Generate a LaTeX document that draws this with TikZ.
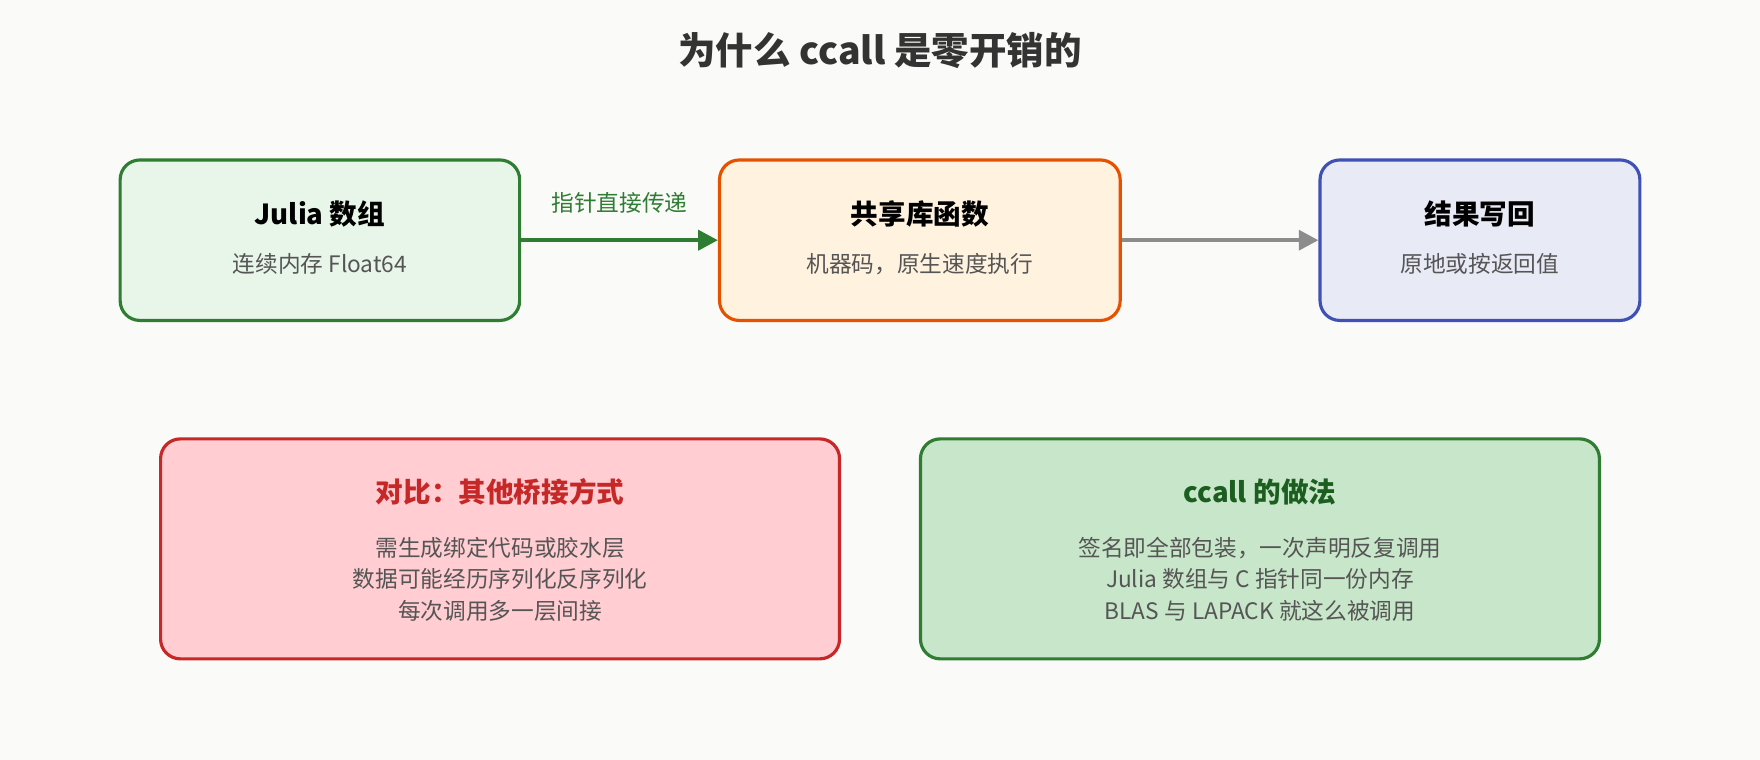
\documentclass[tikz,border=0pt]{standalone}
\usepackage{fontspec}
\setmainfont{Noto Sans CJK SC}
\usetikzlibrary{arrows.meta}
\definecolor{bg}{HTML}{FAFAF8}
\definecolor{gS}{HTML}{2E7D32}\definecolor{gF}{HTML}{E8F5E9}
\definecolor{oS}{HTML}{E65100}\definecolor{oF}{HTML}{FFF3E0}
\definecolor{bS}{HTML}{3F51B5}\definecolor{bF}{HTML}{E8EAF6}
\definecolor{rS}{HTML}{C62828}\definecolor{rF}{HTML}{FFCDD2}
\definecolor{g2F}{HTML}{C8E6C9}\definecolor{g2T}{HTML}{1B5E20}
\definecolor{txt}{HTML}{555555}
\begin{document}
\begin{tikzpicture}[x=0.02cm,y=0.02cm,
  box/.style={draw, line width=1.6pt, rounded corners=10pt, anchor=center},
  ttl/.style={font=\fontsize{14}{16}\selectfont\bfseries, text=black},
  body/.style={font=\fontsize{11.5}{16}\selectfont, text=txt, align=center}]
\fill[bg] (0,0) rectangle (1568,677);
\useasboundingbox (0,0) rectangle (1568,677);
\node[font=\fontsize{19}{22}\selectfont\bfseries, text=black!80] (title) at (784,632) {为什么 ccall 是零开销的};
% top boxes
\node[box, draw=gS, fill=gF, minimum width=356\pgflinewidth*0+7.12cm, minimum height=2.86cm] (julia) at (285,463) {};
\node[box, draw=oS, fill=oF, minimum width=7.14cm, minimum height=2.86cm] (lib) at (819.5,463) {};
\node[box, draw=bS, fill=bF, minimum width=5.7cm, minimum height=2.86cm] (res) at (1318.5,463) {};
\node[ttl] (jt) at (285,486) {Julia 数组};
\node[body] (jb) at (285,442) {连续内存 Float64};
\node[ttl] (lt) at (819.5,486) {共享库函数};
\node[body] (lb) at (819.5,442) {机器码，原生速度执行};
\node[ttl] (rt) at (1318.5,486) {结果写回};
\node[body] (rb) at (1318.5,442) {原地或按返回值};
\draw[gS, line width=2.2pt, -{Triangle[length=10pt,width=10pt]}] (julia.east) -- (lib.west)
  node[midway, above=9pt, font=\fontsize{11.5}{14}\selectfont, text=gS] (al) {指针直接传递};
\draw[gray!90, line width=2.2pt, -{Triangle[length=10pt,width=10pt]}] (lib.east) -- (res.west);
% bottom boxes
\node[box, draw=rS, fill=rF, minimum width=12.1cm, minimum height=3.92cm] (cmp) at (445.5,188) {};
\node[box, draw=gS, fill=g2F, minimum width=12.1cm, minimum height=3.92cm] (cc) at (1122.5,188) {};
\node[ttl, text=rS] (ct) at (445.5,239) {对比：其他桥接方式};
\node[body] (cb) at (445.5,161) {需生成绑定代码或胶水层\\数据可能经历序列化反序列化\\每次调用多一层间接};
\node[ttl, text=g2T] (gt) at (1122.5,239) {ccall 的做法};
\node[body] (gb) at (1122.5,161) {签名即全部包装，一次声明反复调用\\Julia 数组与 C 指针同一份内存\\BLAS 与 LAPACK 就这么被调用};
\end{tikzpicture}
\end{document}
